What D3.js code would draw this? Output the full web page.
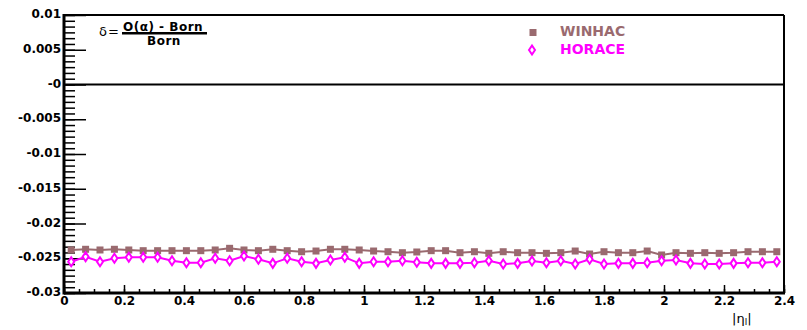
<!DOCTYPE html>
<html>
<head>
<meta charset="utf-8">
<script src="https://cdn.jsdelivr.net/npm/d3@7"></script>
<style>
  body { margin: 0; background: #fff; }
  svg { display: block; }
</style>
</head>
<body>
<svg width="807" height="330"></svg>
<script>
// bin centres in |eta_l| (50 bins over 0..2.4)
const etaCenters = [0.024, 0.072, 0.12, 0.168, 0.216, 0.264, 0.312, 0.36, 0.408, 0.456,
  0.504, 0.552, 0.6, 0.648, 0.696, 0.744, 0.792, 0.84, 0.888, 0.936,
  0.984, 1.032, 1.08, 1.128, 1.176, 1.224, 1.272, 1.32, 1.368, 1.416,
  1.464, 1.512, 1.56, 1.608, 1.656, 1.704, 1.752, 1.8, 1.848, 1.896,
  1.944, 1.992, 2.04, 2.088, 2.136, 2.184, 2.232, 2.28, 2.328, 2.376];

const winhac = [-0.02381, -0.02371, -0.02381, -0.02371, -0.02381, -0.02391, -0.02391, -0.02391, -0.02391, -0.02391,
  -0.02381, -0.02357, -0.02381, -0.02391, -0.02371, -0.02391, -0.02406, -0.02396, -0.02371, -0.02371,
  -0.02381, -0.02396, -0.02406, -0.02420, -0.02410, -0.02391, -0.02391, -0.02420, -0.02406, -0.02429,
  -0.02406, -0.02420, -0.02420, -0.02429, -0.02420, -0.02396, -0.02439, -0.02406, -0.02420, -0.02420,
  -0.02396, -0.02453, -0.02420, -0.02429, -0.02420, -0.02429, -0.02420, -0.02406, -0.02406, -0.02406];

const horace = [-0.02550, -0.02478, -0.02550, -0.02501, -0.02486, -0.02486, -0.02486, -0.02535, -0.02564, -0.02564,
  -0.02501, -0.02535, -0.02468, -0.02515, -0.02573, -0.02501, -0.02550, -0.02573, -0.02525, -0.02486,
  -0.02573, -0.02550, -0.02550, -0.02535, -0.02558, -0.02573, -0.02573, -0.02573, -0.02564, -0.02535,
  -0.02583, -0.02573, -0.02540, -0.02564, -0.02535, -0.02583, -0.02515, -0.02583, -0.02573, -0.02573,
  -0.02564, -0.02535, -0.02525, -0.02573, -0.02583, -0.02583, -0.02573, -0.02564, -0.02564, -0.02550];

const xTickValues = [0, 0.2, 0.4, 0.6, 0.8, 1, 1.2, 1.4, 1.6, 1.8, 2, 2.2, 2.4];
const xTickLabels = ["0", "0.2", "0.4", "0.6", "0.8", "1", "1.2", "1.4", "1.6", "1.8", "2", "2.2", "2.4"];
const yTickValues = [0.01, 0.005, 0, -0.005, -0.01, -0.015, -0.02, -0.025, -0.03];
const yTickLabels = ["0.01", "0.005", "-0", "-0.005", "-0.01", "-0.015", "-0.02", "-0.025", "-0.03"];

const seriesNames = ["WINHAC", "HORACE"];
const winhacColor = "#9a6a6f";
const horaceColor = "#ff00ff";

const svg = d3.select("svg");
const frameL = 64, frameR = 784, frameT = 15, frameB = 293;

const x = d3.scaleLinear().domain([0, 2.4]).range([frameL, frameR]);
const y = d3.scaleLinear().domain([-0.03, 0.01]).range([frameB, frameT]);

const labelFont = "'DejaVu Sans', sans-serif";

// minor ticks on y
const yMinor = d3.range(-0.03, 0.01 + 1e-9, 0.005 / 6);
svg.append("g")
    .attr("transform", `translate(${frameL},0)`)
    .call(d3.axisLeft(y).tickValues(yMinor).tickSize(-11).tickFormat(""))
    .call(g => g.select(".domain").remove())
    .selectAll("line").attr("stroke", "#000").attr("stroke-width", 1.5);

// major ticks on y
svg.append("g")
    .attr("transform", `translate(${frameL},0)`)
    .call(d3.axisLeft(y).tickValues(yTickValues).tickSize(-22).tickPadding(3)
        .tickFormat((d, i) => yTickLabels[i]))
    .call(g => g.select(".domain").remove())
    .call(g => g.selectAll("line").attr("stroke", "#000").attr("stroke-width", 1.5))
    .call(g => g.selectAll("text")
        .attr("font-family", labelFont).attr("font-weight", "bold")
        .attr("font-size", 12).attr("fill", "#000").attr("dy", "0.22em"));

// minor ticks on x
svg.append("g")
    .attr("transform", `translate(0,${frameB})`)
    .call(d3.axisBottom(x).tickValues(d3.range(0, 2.4 + 1e-9, 0.05)).tickSize(-4).tickFormat(""))
    .call(g => g.select(".domain").remove())
    .selectAll("line").attr("stroke", "#000").attr("stroke-width", 1.5);

// major ticks on x
svg.append("g")
    .attr("transform", `translate(0,${frameB})`)
    .call(d3.axisBottom(x).tickValues(xTickValues).tickSize(-8).tickPadding(3)
        .tickFormat((d, i) => xTickLabels[i]))
    .call(g => g.select(".domain").remove())
    .call(g => g.selectAll("line").attr("stroke", "#000").attr("stroke-width", 1.5))
    .call(g => g.selectAll("text")
        .attr("font-family", labelFont).attr("font-weight", "bold")
        .attr("font-size", 12).attr("fill", "#000"));

// frame
svg.append("line").attr("x1", frameL).attr("x2", frameR).attr("y1", frameT).attr("y2", frameT)
    .attr("stroke", "#000").attr("stroke-width", 2);
svg.append("line").attr("x1", frameR).attr("x2", frameR).attr("y1", frameT).attr("y2", frameB)
    .attr("stroke", "#000").attr("stroke-width", 2);
svg.append("line").attr("x1", frameL).attr("x2", frameL).attr("y1", frameT - 1).attr("y2", frameB + 1.5)
    .attr("stroke", "#000").attr("stroke-width", 3);
svg.append("line").attr("x1", frameL).attr("x2", frameR + 1).attr("y1", frameB).attr("y2", frameB)
    .attr("stroke", "#000").attr("stroke-width", 3);

// zero line
svg.append("line").attr("x1", frameL).attr("x2", frameR).attr("y1", y(0)).attr("y2", y(0))
    .attr("stroke", "#000").attr("stroke-width", 2);

// series
const line = d3.line().x(d => x(d[0])).y(d => y(d[1]));
const winhacPts = etaCenters.map((e, i) => [e, winhac[i]]);
const horacePts = etaCenters.map((e, i) => [e, horace[i]]);

svg.append("path").datum(winhacPts).attr("d", line)
    .attr("fill", "none").attr("stroke", winhacColor).attr("stroke-width", 2);
svg.append("g").selectAll("rect").data(winhacPts).join("rect")
    .attr("x", d => x(d[0]) - 3.5).attr("y", d => y(d[1]) - 3.5)
    .attr("width", 7).attr("height", 7).attr("fill", winhacColor);

const diamond = "M0,-4.5L3,0L0,4.5L-3,0Z";
svg.append("path").datum(horacePts).attr("d", line)
    .attr("fill", "none").attr("stroke", horaceColor).attr("stroke-width", 2);
svg.append("g").selectAll("path").data(horacePts).join("path")
    .attr("d", diamond)
    .attr("transform", d => `translate(${x(d[0])},${y(d[1])})`)
    .attr("fill", "#fff").attr("stroke", horaceColor).attr("stroke-width", 2);

// legend
svg.append("rect").attr("x", 529.5).attr("y", 29).attr("width", 7).attr("height", 7).attr("fill", winhacColor);
svg.append("path").attr("d", diamond).attr("transform", "translate(532,50)")
    .attr("fill", "#fff").attr("stroke", horaceColor).attr("stroke-width", 2);
svg.append("text").attr("x", 560).attr("y", 36).text(seriesNames[0])
    .attr("font-family", labelFont).attr("font-weight", "bold").attr("font-size", 14).attr("fill", winhacColor);
svg.append("text").attr("x", 560).attr("y", 53.5).text(seriesNames[1])
    .attr("font-family", labelFont).attr("font-weight", "bold").attr("font-size", 14).attr("fill", horaceColor);

// formula
svg.append("text").attr("x", 99).attr("y", 36).text("δ")
    .attr("font-family", labelFont).attr("font-size", 13).attr("fill", "#000");
svg.append("text").attr("x", 108).attr("y", 36).text("=")
    .attr("font-family", labelFont).attr("font-size", 13).attr("fill", "#000");
svg.append("text").attr("x", 123).attr("y", 30.5).text("O(α) - Born")
    .attr("font-family", labelFont).attr("font-weight", "bold").attr("font-size", 12)
    .attr("letter-spacing", 0.5).attr("fill", "#000");
svg.append("rect").attr("x", 122).attr("y", 32).attr("width", 85).attr("height", 2.5).attr("fill", "#000");
svg.append("text").attr("x", 147).attr("y", 45).text("Born")
    .attr("font-family", labelFont).attr("font-weight", "bold").attr("font-size", 12)
    .attr("letter-spacing", 0.5).attr("fill", "#000");

// x axis title
const xt = svg.append("text").attr("x", 732).attr("y", 323)
    .attr("font-family", labelFont).attr("font-size", 13).attr("fill", "#000");
xt.append("tspan").text("|η");
xt.append("tspan").attr("font-size", 9).attr("dy", 2).text("l");
xt.append("tspan").attr("dy", -2).text("|");
</script>
</body>
</html>
